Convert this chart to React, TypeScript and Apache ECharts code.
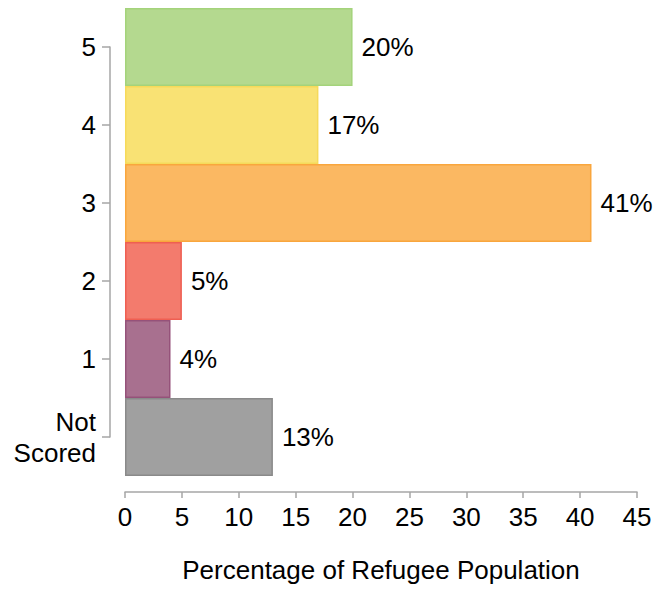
import React, { useEffect, useRef } from "react";
import * as echarts from "echarts";

const categories = ["Not\nScored", "1", "2", "3", "4", "5"];
const values = [13, 4, 5, 41, 17, 20];
const fillColors = ["#a0a0a0", "#a8708f", "#f37b6d", "#fbb862", "#f9e274", "#b4d98f"];
const borderColors = ["#8a8a8a", "#95527a", "#ef5f52", "#f9a63d", "#f6da5a", "#a4d37b"];
const xTicks = { min: 0, max: 45, interval: 5 };
const xTitle = "Percentage of Refugee Population";

export default function App() {
  const ref = useRef<HTMLDivElement>(null);
  useEffect(() => {
    if (!ref.current) return;
    const chart = echarts.init(ref.current, undefined, { renderer: "svg" });
    const font = "'Liberation Sans', Arial, Helvetica, sans-serif";
    const fs = 26;
    chart.setOption({
      animation: false,
      textStyle: { fontFamily: font },
      grid: [
        { left: 117, right: 31, top: 0, bottom: 114 },
        { left: 102, width: 10, top: 39, bottom: 153 },
      ],
      xAxis: [
        {
          gridIndex: 0,
          type: "value",
          min: xTicks.min,
          max: xTicks.max,
          interval: xTicks.interval,
          offset: 16,
          splitLine: { show: false },
          axisLine: { show: true, lineStyle: { color: "#a6a6a6", width: 1.5 } },
          axisTick: { show: true, length: 6, lineStyle: { color: "#a6a6a6", width: 1.5 } },
          axisLabel: { color: "#000", fontSize: fs, margin: 12, fontFamily: font },
          name: xTitle,
          nameLocation: "middle",
          nameGap: 65,
          nameTextStyle: { color: "#000", fontSize: fs, fontFamily: font },
        },
        { gridIndex: 1, type: "value", show: false },
      ],
      yAxis: [
        {
          gridIndex: 0,
          type: "category",
          data: categories,
          show: false,
        },
        {
          gridIndex: 1,
          type: "category",
          data: categories,
          boundaryGap: false,
          axisLine: { show: true, lineStyle: { color: "#a6a6a6", width: 1.5 } },
          axisTick: { show: true, length: 8, alignWithLabel: true, lineStyle: { color: "#a6a6a6", width: 1.5 } },
          axisLabel: { color: "#000", fontSize: fs, margin: 14, lineHeight: 31, align: "right", fontFamily: font },
          splitLine: { show: false },
        },
      ],
      series: [
        {
          type: "bar",
          xAxisIndex: 0,
          yAxisIndex: 0,
          barCategoryGap: "0%",
          data: values.map((v, i) => ({
            value: v,
            itemStyle: { color: fillColors[i], borderColor: borderColors[i], borderWidth: 1.5 },
          })),
          label: {
            show: true,
            position: "right",
            distance: 9,
            formatter: "{c}%",
            color: "#000",
            fontSize: fs,
            fontFamily: font,
          },
        },
      ],
    });
    return () => chart.dispose();
  }, []);
  return <div ref={ref} style={{ width: 660, height: 582 }} />;
}
